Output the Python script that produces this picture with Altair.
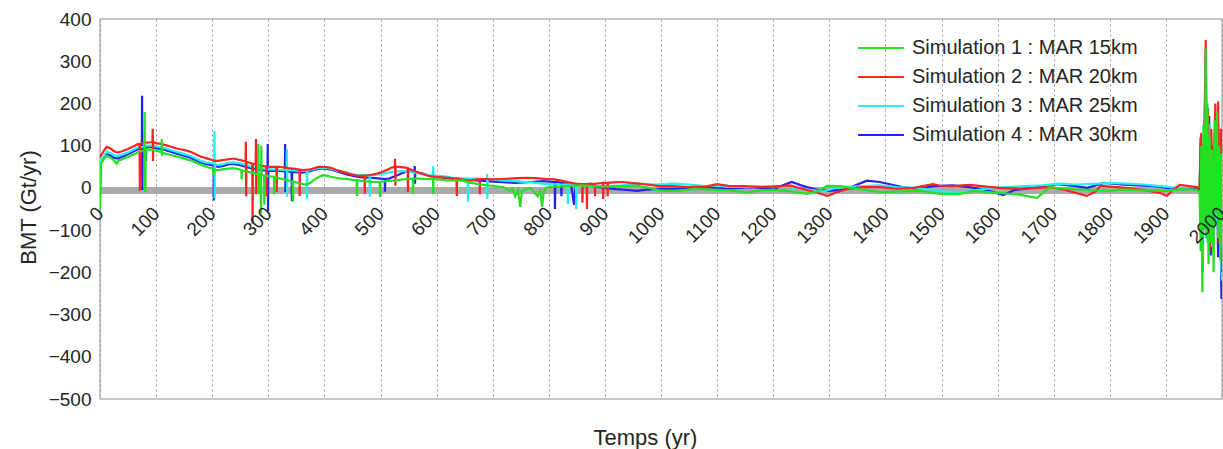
import altair as alt
import pandas as pd

series_names = [
    "Simulation 1 : MAR 15km",
    "Simulation 2 : MAR 20km",
    "Simulation 3 : MAR 25km",
    "Simulation 4 : MAR 30km",
]
series_colors = ["#22e022", "#ff2222", "#22f0f0", "#2222ee"]
draw_order = [3, 2, 1, 0]  # blue, cyan, red, green (green on top)

x_ticks = list(range(0, 2001, 100))
y_ticks = list(range(-500, 401, 100))

band_years = [0, 1960]
band_bmt = [-6, -6]

# (year, BMT Gt/yr)
sim1_points = [
    (0, -55), (1, 55), (4, 62), (8, 70), (12, 76), (16, 73), (20, 71), (24, 66), (28, 60), (30, 57),
    (33, 65), (38, 67), (44, 70), (50, 73), (56, 77), (62, 80), (68, 85), (72, 87), (76, 88), (79, 88),
    (79.5, 180), (80, -10), (80.5, 90), (81, -8), (81.5, 92), (84, 92), (88, 90), (92, 91), (96, 89),
    (100, 88), (106, 86), (109.5, 84), (110, 116), (110.5, 76), (111, 84), (115, 82), (120, 80),
    (126, 78), (132, 76), (138, 74), (144, 72), (150, 70), (156, 67), (162, 65), (168, 62), (174, 58),
    (180, 55), (186, 52), (192, 49), (198, 47), (202, 45), (202.5, 28), (203, 45), (206, 43), (212, 42),
    (218, 44), (224, 45), (230, 46), (236, 47), (242, 46), (248, 44), (252, 42), (252.5, 20), (253, 41),
    (258, 40), (264, 38), (270, 36), (276, 34), (280, 33), (281.5, 32), (282, 104), (282.5, -14),
    (284, 32), (286.5, 31), (287, -60), (287.5, 100), (288, 30), (290, 30), (292.5, 29), (293, -40),
    (293.5, 29), (296, 29), (300, 28), (306, 27), (310, 26), (310.5, -15), (311, 26), (316, 24),
    (322, 22), (328, 20), (334, 18), (340, 16), (343.5, 15), (344, -33), (344.5, 15), (350, 13),
    (356, 11), (362, 9), (369, 8), (375, 12), (380, 17), (385, 22), (392, 27), (398, 30), (404, 29),
    (410, 27), (420, 24), (430, 22), (440, 21), (450, 19), (457.5, 18), (458, -19), (458.5, 18),
    (470, 16), (480, 15), (490, 14), (498.5, 14), (499, -21), (499.5, 14), (510, 16), (522, 17),
    (530, 18), (540, 20), (550, 21), (557.5, 22), (558, -14), (558.5, 22), (570, 22), (580, 21),
    (593.5, 21), (594, -14), (594.5, 21), (610, 19), (620, 18), (635, 18), (647, 17), (660, 12),
    (670, 10), (680, 8), (690, 6), (700, 5), (710, 3), (719, 2), (725, -3), (730, -8), (735, -2),
    (740, -20), (745, -5), (749, -45), (752, -8), (758, -3), (765, 0), (770, -4), (775, -12),
    (780, -20), (785, -8), (788, -45), (791, -10), (795, 0), (800, 2), (810, 3), (820, 3), (838, 5),
    (860, 6), (880, 4), (900, 3), (930, 4), (957, 5), (980, 0), (1000, -7), (1030, -7), (1060, -2),
    (1090, -4), (1120, -6), (1153, -10), (1180, -6), (1200, -4), (1230, -8), (1260, -14), (1280, -8),
    (1296, 5), (1320, 4), (1350, -2), (1390, -10), (1420, -9), (1462, -7), (1497, -14), (1533, -14),
    (1556, -7), (1600, -12), (1640, -16), (1670, -24), (1693, 2), (1720, -2), (1760, -5), (1795, -7),
    (1830, -4), (1860, -6), (1902, -7), (1930, -3), (1955, -5), (1960, -8), (1962, -150), (1963, 100),
    (1965, -247), (1967, 150), (1969, -100), (1971, 330), (1972, -120), (1974, 200), (1976, -180),
    (1978, 120), (1980, -130), (1982, 90), (1985, -200), (1987, 160), (1989, -60), (1991, 180),
    (1993, -120), (1995, 100), (1997, -170), (1999, 80), (2001, -140),
]

sim2_points = [
    (0, 72), (2, 78), (5, 84), (8, 90), (12, 97), (16, 95), (20, 92), (24, 88), (28, 85), (33, 84),
    (38, 86), (44, 89), (50, 92), (56, 96), (62, 100), (68, 104), (70.5, 103), (71, -7), (71.5, 104),
    (76, 106), (80, 108), (85, 107), (90, 108), (93.5, 109), (94, 140), (94.5, 64), (95, 108),
    (100, 106), (105, 105), (110, 104), (115, 102), (120, 100), (125, 98), (130, 96), (135, 94),
    (140, 92), (145, 91), (150, 90), (155, 88), (160, 86), (165, 83), (170, 80), (175, 77), (180, 74),
    (185, 72), (190, 70), (195, 68), (200, 66), (205, 64), (210, 64), (215, 65), (220, 66), (225, 67),
    (230, 68), (236, 69), (241, 69), (246, 67), (250, 66), (255, 64), (259.5, 63), (260, 109),
    (260.5, -20), (261, 62), (265, 60), (270, 58), (271.5, 57), (272, -85), (272.5, 57), (276, 56),
    (277.5, 55), (278, 116), (278.5, -15), (279, 55), (282, 55), (286, 53), (290, 52), (294, 51),
    (296.5, 51), (297, -20), (297.5, 51), (300, 50), (305, 50), (310, 50), (314.5, 50), (315, -10),
    (315.5, 50), (320, 50), (330, 48), (340, 46), (348, 45), (355.5, 43), (356, -19), (356.5, 43),
    (362, 42), (368, 43), (375, 44), (380, 46), (385, 48), (390, 50), (398, 50), (404, 49), (410, 48),
    (415, 46), (420, 43), (430, 39), (440, 35), (450, 31), (463, 28), (471.5, 29), (472, -14),
    (472.5, 29), (480, 30), (490, 33), (500, 36), (507, 40), (515, 45), (520, 48), (525.5, 50),
    (526, 69), (526.5, 5), (527, 50), (530, 50), (537, 49), (545, 48), (548.5, 46), (549, -10),
    (549.5, 46), (555, 43), (560, 40), (568, 36), (575, 33), (582, 30), (588, 28), (600, 26),
    (610, 25), (620, 24), (630, 22), (635.5, 22), (636, -19), (636.5, 22), (645, 20), (655, 18),
    (660, 17), (668, 19), (676.5, 21), (677, -15), (677.5, 21), (690, 21), (700, 20), (715, 21),
    (730, 22), (745, 23), (760, 24), (775, 23), (797, 21), (810, 20), (820, 18), (830, 15), (840, 12),
    (848, 10), (856, 9), (859.5, 9), (860, -35), (860.5, 9), (867.5, 9), (868, -50), (868.5, 9),
    (875, 10), (882, 8), (882.5, -20), (883, 10), (890, 11), (896.5, 12), (897, -26), (897.5, 12),
    (904.5, 12), (905, -20), (905.5, 12), (915, 13), (932, 14), (945, 12), (960, 10), (975, 8),
    (993, 5), (1020, 4), (1050, 2), (1080, 3), (1100, 9), (1120, 5), (1150, 4), (1180, 2), (1200, 3),
    (1230, 6), (1260, -5), (1280, -12), (1296, -19), (1310, -12), (1330, -3), (1360, 2), (1390, 2),
    (1420, -2), (1450, 0), (1485, 9), (1497, 5), (1520, 4), (1550, 7), (1580, 3), (1604, 0),
    (1640, -2), (1670, 0), (1693, 2), (1720, -5), (1740, -12), (1759, -19), (1775, -8), (1783, 5),
    (1800, 3), (1830, 0), (1860, -5), (1890, -12), (1902, -19), (1912, -5), (1925, 7), (1955, 2),
    (1960, 0), (1963, 130), (1966, -100), (1968, 60), (1971, 350), (1973, -50), (1975, 190),
    (1978, -150), (1981, 140), (1984, -90), (1988, 200), (1991, -60), (1993, 205), (1995, -130),
    (1998, 140), (2000, -200), (2001, -60),
]

sim3_points = [
    (0, 60), (2, 66), (5, 72), (8, 78), (12, 86), (16, 84), (20, 82), (24, 78), (28, 76), (33, 76),
    (38, 78), (44, 81), (50, 84), (56, 88), (62, 92), (68, 96), (73, 96), (78, 98), (84, 100),
    (90, 100), (95, 99), (100, 98), (110, 96), (120, 92), (130, 88), (140, 84), (150, 80), (160, 76),
    (170, 70), (180, 64), (190, 60), (200, 58), (203.5, 57), (204, 135), (204.5, -25), (205, 56),
    (210, 54), (220, 56), (230, 60), (240, 60), (250, 58), (260, 54), (270, 50), (280, 48), (290, 46),
    (300, 44), (310, 44), (320, 43), (332.5, 42), (333, 92), (333.5, -21), (334, 42), (340, 42),
    (350, 41), (360, 40), (368.5, 40), (369, -26), (369.5, 40), (380, 44), (390, 47), (398, 48),
    (410, 46), (420, 42), (430, 39), (440, 36), (450, 33), (460, 30), (470, 30), (480.5, 30),
    (481, -21), (481.5, 30), (490, 31), (500, 32), (510, 35), (520, 38), (530, 39), (540, 40),
    (550, 38), (560, 36), (570, 34), (580, 32), (587, 30), (593.5, 29), (594, 52), (594.5, 20),
    (595, 29), (610, 28), (620, 26), (630, 24), (640, 23), (655.5, 22), (656, -33), (656.5, 22),
    (670, 22), (680, 21), (689.5, 21), (690, 33), (690.5, -26), (691, 21), (700, 20), (710, 19),
    (720, 18), (730, 17), (740, 16), (750, 15), (760, 14), (775, 12), (790, 10), (805, 9), (820, 8),
    (833.5, 8), (834, -38), (834.5, 8), (840, 7), (848.5, 7), (849, -50), (849.5, 7), (855, 6),
    (870, 6), (885, 5), (900, 4), (915, 5), (930, 6), (945, 8), (960, 10), (975, 9), (993, 8),
    (1010, 9), (1020, 10), (1035, 9), (1050, 8), (1065, 6), (1080, 4), (1100, 6), (1120, 3),
    (1150, 2), (1175, 3), (1200, 4), (1230, 2), (1260, -4), (1290, -8), (1310, 0), (1330, 2),
    (1360, 4), (1390, 6), (1420, 2), (1450, 0), (1480, -4), (1510, -10), (1530, -12), (1560, -6),
    (1590, 0), (1620, 2), (1650, 4), (1680, 6), (1710, 10), (1740, 8), (1780, 10), (1800, 12),
    (1830, 10), (1860, 8), (1890, 4), (1920, 0), (1955, 2), (1960, 0), (1963, 110), (1966, -180),
    (1968, 50), (1971, 300), (1974, -130), (1978, 152), (1982, -140), (1986, 130), (1990, -90),
    (1994, 152), (1997, -150), (2000, -220), (2001, -80),
]

sim4_points = [
    (0, -20), (1, 58), (4, 64), (8, 72), (12, 80), (16, 78), (20, 76), (24, 72), (28, 70), (33, 70),
    (38, 73), (44, 76), (50, 80), (56, 84), (62, 88), (68, 92), (73, 90), (74.5, 90), (75, 218),
    (75.5, -5), (76, 92), (78, 94), (81.5, 95), (82, 64), (82.5, 96), (85, 98), (90, 97), (95, 96),
    (100, 94), (110, 92), (120, 88), (130, 84), (140, 80), (150, 76), (160, 72), (170, 66), (180, 60),
    (190, 56), (200, 54), (202.5, 53), (203, -30), (203.5, 53), (210, 50), (220, 52), (230, 56),
    (240, 56), (250, 54), (260, 50), (270, 46), (280, 44), (290, 42), (298.5, 41), (299, 104),
    (299.5, -55), (300, 41), (310, 40), (320, 40), (329.5, 39), (330, 104), (330.5, -10), (331, 39),
    (341.5, 38), (342, -31), (342.5, 38), (350, 37), (360, 36), (370, 38), (380, 42), (390, 45),
    (398, 46), (410, 44), (420, 40), (430, 36), (440, 32), (450, 29), (460, 26), (470, 25), (480, 24),
    (490, 23), (500, 22), (507.5, 21), (508, -9), (508.5, 21), (515, 22), (522, 26), (530, 30),
    (537, 34), (545, 38), (555, 39), (560.5, 38), (561, 52), (561.5, 10), (562, 38), (568, 36),
    (575, 34), (582, 31), (590, 28), (600, 26), (610, 24), (620, 23), (630, 22), (640, 21), (650, 20),
    (660, 19), (670, 18), (680, 17), (690, 16), (700, 15), (710, 14), (725, 13), (740, 12), (755, 13),
    (770, 14), (780, 15), (790, 16), (800, 15), (810.5, 14), (811, -50), (811.5, 14), (815, 14),
    (822, 12), (822.5, -20), (823, 12), (830, 10), (840, 6), (845, -40), (848, 6), (856, 9), (870, 6),
    (880, 4), (890, 2), (900, 0), (920, -3), (940, -5), (957, -7), (975, -4), (1000, -2), (1027, -2),
    (1050, 0), (1075, 2), (1100, 0), (1118, -2), (1140, 0), (1160, 2), (1180, 0), (1200, -4),
    (1215, 5), (1233, 14), (1250, 6), (1260, 2), (1280, -5), (1300, -7), (1330, -3), (1350, 8),
    (1367, 17), (1390, 14), (1410, 8), (1430, 2), (1460, -2), (1485, 4), (1520, 6), (1550, 2),
    (1580, -5), (1610, -17), (1630, -5), (1660, 0), (1690, 5), (1706, 9), (1740, 4), (1760, 0),
    (1790, 12), (1820, 8), (1850, 6), (1880, 4), (1902, 0), (1930, -3), (1955, -2), (1960, -5),
    (1962, 120), (1965, -200), (1968, 40), (1971, 320), (1974, -110), (1977, 170), (1980, -160),
    (1983, 100), (1987, -80), (1990, 150), (1993, -164), (1996, 90), (1999, -263), (2001, -100),
]

all_points = [sim1_points, sim2_points, sim3_points, sim4_points]

rows = []
for idx, pts in enumerate(all_points):
    for i, (t, v) in enumerate(pts):
        rows.append({"year": t, "bmt": v, "series": series_names[idx], "k": i})
df = pd.DataFrame(rows)
band_df = pd.DataFrame({"year": band_years, "bmt": band_bmt})

FONT = "Liberation Sans"
TXT = "#262626"

x_scale = alt.Scale(domain=[0, 2000], nice=False, zero=False)
y_scale = alt.Scale(domain=[-500, 400], nice=False)

# grid-only x axis (drawn behind the data)
x_axis_grid = alt.Axis(
    orient="bottom", values=x_ticks, labels=False, ticks=False, domain=False, title=None,
    grid=True, gridDash=[2, 3], gridColor="#9a9a9a", gridWidth=1, zindex=0,
)
# label x axis placed near the zero line, drawn above the data
x_axis_labels = alt.Axis(
    orient="bottom", values=x_ticks, format="d", labelAngle=315, labelAlign="right",
    labelBaseline="middle", labelFontSize=19, labelFont=FONT, labelColor=TXT, labelPadding=15,
    ticks=False, domain=False, grid=False, offset=-204, labelOverlap=False, labelFlush=False,
    zindex=1,
    title="Temps (yr)", titleFontSize=22, titleFont=FONT, titleFontWeight="normal",
    titleColor=TXT, titleX=545, titleY=242, titleBaseline="middle", titleAlign="center",
)
y_axis = alt.Axis(
    values=y_ticks, labelFontSize=19, labelFont=FONT, labelColor=TXT, labelPadding=9,
    ticks=False, domain=False, grid=False,
    title="BMT (Gt/yr)", titleFontSize=22, titleFont=FONT, titleFontWeight="normal",
    titleColor=TXT, titleX=-72, titleY=188, titleAngle=270, titleBaseline="middle",
    titleAlign="center",
)

band = alt.Chart(band_df).mark_line(color="#aaaaaa", strokeWidth=7, clip=True).encode(
    x=alt.X("year:Q", scale=x_scale, axis=x_axis_grid),
    y=alt.Y("bmt:Q", scale=y_scale, axis=y_axis),
)

color = alt.Color(
    "series:N",
    scale=alt.Scale(domain=series_names, range=series_colors),
    legend=alt.Legend(
        title=None, orient="none", legendX=757, legendY=19, symbolType="stroke",
        symbolSize=2100, symbolStrokeWidth=2, labelFontSize=20, labelFont=FONT,
        labelColor=TXT, labelOffset=7, clipHeight=20, rowPadding=9, padding=0,
        labelLimit=400,
    ),
)

series_layers = []
for idx in draw_order:
    series_layers.append(
        alt.Chart(df).transform_filter(alt.datum.series == series_names[idx])
        .mark_line(strokeWidth=2.2, clip=True)
        .encode(
            x=alt.X("year:Q", scale=x_scale, axis=x_axis_labels),
            y=alt.Y("bmt:Q", scale=y_scale, axis=y_axis),
            color=color,
            order=alt.Order("k:Q"),
        )
    )
series_group = alt.layer(*series_layers)

chart = alt.layer(band, series_group).resolve_axis(x="independent").properties(
    width=1122, height=380,
    autosize=alt.AutoSizeParams(type="none"),
    padding={"left": 100, "top": 19, "right": 1, "bottom": 50},
    background="white",
).configure_view(stroke="#b5b5b5", strokeWidth=1.5)

chart.save("out.html", embed_options={"renderer": "svg", "actions": False})
